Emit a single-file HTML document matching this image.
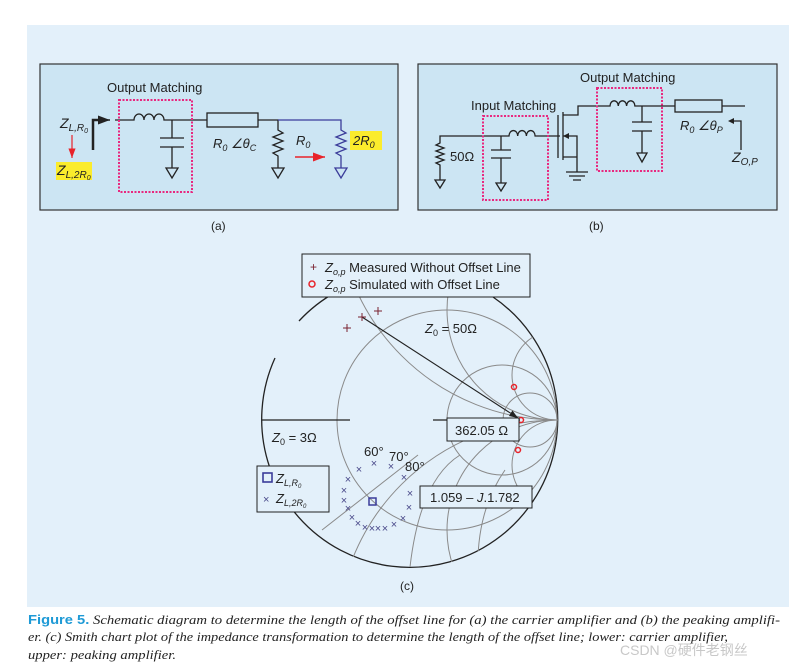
<!DOCTYPE html>
<html><head><meta charset="utf-8"><style>
html,body{margin:0;padding:0;background:#fff;width:806px;height:670px;overflow:hidden;}
svg{display:block;font-family:"Liberation Sans",sans-serif;}
</style></head><body>
<svg width="806" height="670" viewBox="0 0 806 670" xmlns="http://www.w3.org/2000/svg">
<defs>
<clipPath id="outer"><circle cx="410" cy="420" r="148"/></clipPath>
<marker id="ah" markerWidth="8" markerHeight="6" refX="8" refY="3" orient="auto"><path d="M0,0 L8,3 L0,6 z" fill="#222"/></marker>
<marker id="ahr" markerWidth="8" markerHeight="6" refX="8" refY="3" orient="auto"><path d="M0,0 L8,3 L0,6 z" fill="#e8232a"/></marker>
</defs>
<rect x="27" y="25" width="762" height="582" fill="#e3f0fa"/>

<!-- Panel (a) -->
<rect x="40" y="64" width="358" height="146" fill="#cce5f3" stroke="#333" stroke-width="1.2"/>
<text x="107" y="92" font-size="13" fill="#222">Output Matching</text>
<text x="60" y="128" font-size="14" font-style="italic" fill="#222">Z<tspan font-size="10" dy="3">L,R</tspan><tspan font-size="7" dy="2">0</tspan></text>
<path d="M93,150 V120 H106" fill="none" stroke="#222" stroke-width="2.5"/>
<path d="M106,120 L110,120" stroke="#222" stroke-width="1.5" marker-end="url(#ah)"/>
<line x1="72" y1="135" x2="72" y2="158" stroke="#e8232a" stroke-width="1.2" marker-end="url(#ahr)"/>
<rect x="56" y="162" width="36" height="18" fill="#fbec2c"/>
<text x="57" y="175" font-size="14" font-style="italic" fill="#222">Z<tspan font-size="10" dy="3">L,2R</tspan><tspan font-size="7" dy="2">0</tspan></text>
<g stroke="#222" stroke-width="1.3" fill="none">
<path d="M115,120 H134 a5,6 0 0 1 10,0 a5,6 0 0 1 10,0 a5,6 0 0 1 10,0 H207"/>
<path d="M172,120 V138 M160,138 H184 M160,147 H184 M172,147 V168 M166,168 L178,168 L172,178 Z"/>
<rect x="207" y="113" width="51" height="14"/>
<path d="M258,120 H278 V130 l5,3 l-10,4 l10,4 l-10,4 l10,4 l-10,4 l5,3 V168 M272,168 L284,168 L278,178 Z"/>
</g>
<rect x="119" y="100" width="73" height="92" fill="none" stroke="#e8287f" stroke-width="2" stroke-dasharray="2,1.5"/>
<g stroke="#3b3c9a" stroke-width="1.3" fill="none">
<path d="M278,120 H341 V130 l5,3 l-10,4 l10,4 l-10,4 l10,4 l-10,4 l5,3 V168 M335,168 L347,168 L341,178 Z"/>
</g>
<text x="213" y="148" font-size="13" font-style="italic" fill="#222">R<tspan font-size="9" dy="3">0</tspan><tspan dy="-3"> ∠θ</tspan><tspan font-size="9" dy="3">C</tspan></text>
<text x="296" y="145" font-size="13" font-style="italic" fill="#222">R<tspan font-size="9" dy="3">0</tspan></text>
<line x1="295" y1="157" x2="325" y2="157" stroke="#e8232a" stroke-width="1.5" marker-end="url(#ahr)"/>
<rect x="350" y="131" width="32" height="19" fill="#fbec2c"/>
<text x="353" y="145" font-size="13" font-style="italic" fill="#222">2R<tspan font-size="9" dy="3">0</tspan></text>
<text x="211" y="230" font-size="12" fill="#222">(a)</text>

<!-- Panel (b) -->
<rect x="418" y="64" width="359" height="146" fill="#cce5f3" stroke="#333" stroke-width="1.2"/>
<text x="580" y="82" font-size="13" fill="#222">Output Matching</text>
<text x="471" y="110" font-size="13" fill="#222">Input Matching</text>
<g stroke="#222" stroke-width="1.3" fill="none">
<path d="M440,180 V165 l-4,-2 l8,-3 l-8,-3 l8,-3 l-8,-3 l8,-3 l-8,-3 l4,-2 V136 H509 a4,5 0 0 1 8.7,0 a4,5 0 0 1 8.7,0 a4,5 0 0 1 8.7,0 H560"/>
<path d="M435,180 L445,180 L440,188 Z"/>
<path d="M501,136 V150 M491,150 H511 M491,158 H511 M501,158 V183 M496,183 L506,183 L501,191 Z"/>
<path d="M558,115 V158 M563,112 V160 M563,115 H578 V106 H610 a4,5 0 0 1 8.3,0 a4,5 0 0 1 8.3,0 a4,5 0 0 1 8.3,0 H675 M563,157 H577 V172 M566,172 H588 M569,176 H585 M573,180 H581 M563,136 H577 V157"/>
<path d="M642,106 V122 M632,122 H652 M632,131 H652 M642,131 V153 M637,153 L647,153 L642,162 Z"/>
<rect x="675" y="100" width="47" height="12"/>
<path d="M722,106 H745 M741,150 V121 H730"/>
</g>
<path d="M563,136 l6,-3 v6 z" fill="#222"/>
<path d="M728,121 l6,-3 v6 z" fill="#222"/>
<rect x="483" y="116" width="65" height="84" fill="none" stroke="#e8287f" stroke-width="2" stroke-dasharray="2,1.5"/>
<rect x="597" y="88" width="65" height="83" fill="none" stroke="#e8287f" stroke-width="2" stroke-dasharray="2,1.5"/>
<text x="450" y="161" font-size="13" fill="#222">50Ω</text>
<text x="680" y="130" font-size="13" font-style="italic" fill="#222">R<tspan font-size="9" dy="3">0</tspan><tspan dy="-3"> ∠θ</tspan><tspan font-size="9" dy="3">P</tspan></text>
<text x="732" y="162" font-size="14" font-style="italic" fill="#222">Z<tspan font-size="10" dy="3">O,P</tspan></text>
<text x="589" y="230" font-size="12" fill="#222">(b)</text>

<!-- Smith chart -->
<path d="M299,321 A148,148 0 0 1 336,292" fill="none" stroke="#222" stroke-width="1.3"/>
<path d="M275,358 A148,148 0 1 0 493,297" fill="none" stroke="#222" stroke-width="1.3"/>
<g clip-path="url(#outer)" fill="none" stroke="#8a8a8a" stroke-width="1">
<circle cx="447" cy="420" r="110"/>
<circle cx="502" cy="420" r="55"/>
<circle cx="530" cy="420" r="27"/>
<circle cx="557" cy="310" r="110"/>
<circle cx="557" cy="530" r="110"/>
<circle cx="557" cy="200" r="220"/>
<circle cx="557" cy="640" r="220"/>
<circle cx="557" cy="375" r="45"/>
<circle cx="557" cy="465" r="45"/>
<path d="M322,530 L418,455"/>
<path d="M410,567 Q420,480 460,455"/>
<path d="M480,600 Q470,520 505,470"/>
</g>
<g stroke="#222" stroke-width="1.2">
<line x1="262" y1="420" x2="350" y2="420"/>
<line x1="433" y1="420" x2="520" y2="420"/>
</g>
<line x1="362" y1="317" x2="518" y2="418" stroke="#222" stroke-width="1.1" marker-end="url(#ah)"/>
<g stroke="#7a2230" stroke-width="1">
<path d="M343,328 h8 M347,324 v8 M358,317 h8 M362,313 v8 M374,311 h8 M378,307 v8"/>
</g>
<g fill="none" stroke="#e8232a" stroke-width="1.5">
<circle cx="514" cy="387" r="2.5"/>
<circle cx="521" cy="420" r="2.5"/>
<circle cx="518" cy="450" r="2.5"/>
</g>
<rect x="447" y="418" width="72" height="23" fill="#e3f0fa" stroke="#222"/>
<text x="455" y="435" font-size="13" fill="#222">362.05 Ω</text>
<text x="425" y="333" font-size="13" fill="#222"><tspan font-style="italic">Z</tspan><tspan font-size="9" dy="3">0</tspan><tspan dy="-3"> = 50Ω</tspan></text>
<text x="272" y="442" font-size="13" fill="#222"><tspan font-style="italic">Z</tspan><tspan font-size="9" dy="3">0</tspan><tspan dy="-3"> = 3Ω</tspan></text>
<text x="364" y="456" font-size="13" fill="#222">60°</text>
<text x="389" y="461" font-size="13" fill="#222">70°</text>
<text x="405" y="471" font-size="13" fill="#222">80°</text>
<g fill="#4a4a8a" font-size="11" text-anchor="middle">
<text x="359" y="473">×</text><text x="374" y="467">×</text><text x="391" y="470">×</text><text x="404" y="481">×</text><text x="410" y="497">×</text><text x="409" y="511">×</text><text x="403" y="522">×</text><text x="394" y="528">×</text><text x="385" y="532">×</text><text x="378" y="532">×</text><text x="372" y="532">×</text><text x="365" y="531">×</text><text x="358" y="527">×</text><text x="352" y="521">×</text><text x="348" y="512">×</text><text x="344" y="504">×</text><text x="344" y="494">×</text><text x="348" y="483">×</text>
</g>
<rect x="369" y="498" width="7" height="7" fill="none" stroke="#3b3c9a" stroke-width="1.5"/>
<rect x="420" y="486" width="112" height="22" fill="#e3f0fa" stroke="#222"/>
<text x="430" y="502" font-size="13" fill="#222">1.059 – <tspan font-style="italic">J</tspan>.1.782</text>
<rect x="257" y="466" width="72" height="46" fill="#e3f0fa" stroke="#222"/>
<rect x="263" y="473" width="9" height="9" fill="none" stroke="#3b3c9a" stroke-width="1.6"/>
<text x="276" y="483" font-size="13" font-style="italic" fill="#222">Z<tspan font-size="9" dy="3">L,R</tspan><tspan font-size="6" dy="2">0</tspan></text>
<text x="263" y="503" font-size="11" fill="#4a4a8a">×</text>
<text x="276" y="503" font-size="13" font-style="italic" fill="#222">Z<tspan font-size="9" dy="3">L,2R</tspan><tspan font-size="6" dy="2">0</tspan></text>
<rect x="302" y="254" width="228" height="43" fill="#e3f0fa" stroke="#222"/>
<text x="310" y="271" font-size="12" fill="#7a2230">+</text>
<text x="325" y="272" font-size="13" fill="#222"><tspan font-style="italic">Z</tspan><tspan font-size="9" dy="3" font-style="italic">o,p</tspan><tspan dy="-3"> Measured Without Offset Line</tspan></text>
<circle cx="312" cy="284" r="3" fill="none" stroke="#e8232a" stroke-width="1.5"/>
<text x="325" y="289" font-size="13" fill="#222"><tspan font-style="italic">Z</tspan><tspan font-size="9" dy="3" font-style="italic">o,p</tspan><tspan dy="-3"> Simulated with Offset Line</tspan></text>
<text x="400" y="590" font-size="12" fill="#222">(c)</text>

<!-- Caption -->
<g font-family="'Liberation Serif',serif" font-size="13" fill="#222" font-style="italic">
<text x="28" y="624" textLength="752" lengthAdjust="spacingAndGlyphs"><tspan font-family="'Liberation Sans',sans-serif" font-style="normal" font-weight="bold" fill="#1e9ad6">Figure 5.</tspan> Schematic diagram to determine the length of the offset line for (a) the carrier amplifier and (b) the peaking amplifi-</text>
<text x="28" y="641" textLength="700" lengthAdjust="spacingAndGlyphs">er. (c) Smith chart plot of the impedance transformation to determine the length of the offset line; lower: carrier amplifier,</text>
<text x="28" y="659" textLength="148" lengthAdjust="spacingAndGlyphs">upper: peaking amplifier.</text>
</g>
<text x="620" y="655" font-size="14" fill="#c8c8c8" font-family="'Liberation Sans','Noto Sans CJK SC',sans-serif">CSDN @硬件老钢丝</text>
</svg>
</body></html>
